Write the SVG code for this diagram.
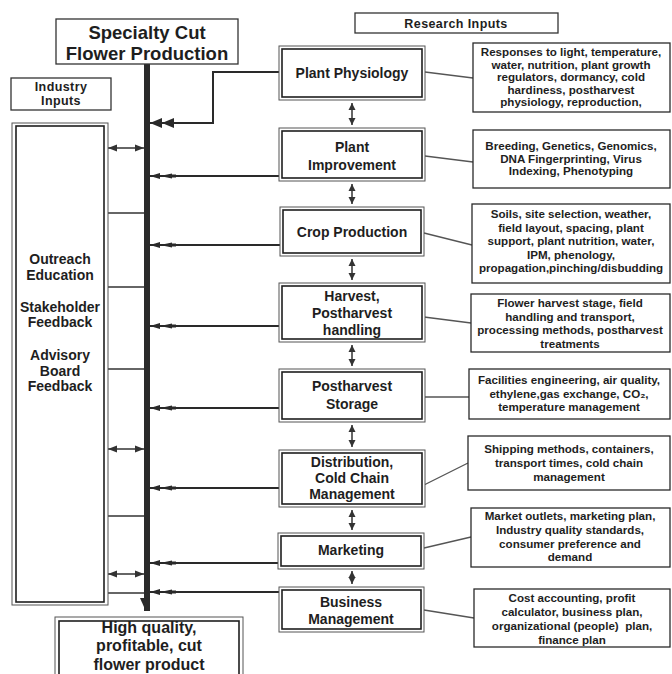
<svg xmlns="http://www.w3.org/2000/svg" width="672" height="674" viewBox="0 0 672 674">
<defs>
<style>
text{font-family:"Liberation Sans",Arial,sans-serif;font-weight:bold;fill:#1e1e1e;text-anchor:middle}
.t14{font-size:14px}
.t12{font-size:11.6px}
.t13{font-size:12.5px;letter-spacing:0.4px}
.big{font-size:18.5px}
.big2{font-size:16px}
.outer{fill:#fff;stroke:#555;stroke-width:1}
.inner{fill:none;stroke:#1e1e1e;stroke-width:1.6}
.desc{fill:#fff;stroke:#2a2a2a;stroke-width:1.3}
.conn{fill:none;stroke:#2a2a2a;stroke-width:2}
.thin{fill:none;stroke:#333;stroke-width:1.5}
.link{fill:none;stroke:#555;stroke-width:1.3}
.vert{fill:none;stroke:#333;stroke-width:1.5}
</style>
<marker id="dblBig" markerUnits="userSpaceOnUse" markerWidth="26" markerHeight="12" refX="24" refY="6" orient="auto">
<path d="M24,6 L12,1 L12,11 Z M12,6 L0,1 L0,11 Z" fill="#2a2a2a"/>
</marker>
<marker id="dbl" markerUnits="userSpaceOnUse" markerWidth="28" markerHeight="8" refX="26" refY="4" orient="auto">
<path d="M26,4 L16,1 L16,7 Z M16,4 L4,1.5 L4,6.5 Z M4,2.5 L0,2.5 L0,5.5 L4,5.5 Z" fill="#2a2a2a"/>
</marker>
<marker id="sm" markerUnits="userSpaceOnUse" markerWidth="10" markerHeight="8" refX="9" refY="4" orient="auto-start-reverse">
<path d="M9,4 L0,0.5 L0,7.5 Z" fill="#333"/>
</marker>
<marker id="vh" markerUnits="userSpaceOnUse" markerWidth="8" markerHeight="8" refX="7" refY="4" orient="auto-start-reverse">
<path d="M7,4 L0,0.5 L0,7.5 Z" fill="#333"/>
</marker>
</defs>
<rect width="672" height="674" fill="#fff"/>

<!-- connectors -->
<g id="connectors">
<rect x="144" y="64" width="6" height="547" fill="#2a2a2a"/>
<path d="M140,598 L147,598 L144,607 Z" fill="#2a2a2a"/>
<path class="conn" d="M279,72 H213 V123 H150" marker-end="url(#dblBig)"/>
<path class="conn" d="M279,176 H150" marker-end="url(#dbl)"/>
<path class="conn" d="M280,245 H150" marker-end="url(#dbl)"/>
<path class="conn" d="M279,326 H150" marker-end="url(#dbl)"/>
<path class="conn" d="M279,408 H150" marker-end="url(#dbl)"/>
<path class="conn" d="M279,488 H150" marker-end="url(#dbl)"/>
<path class="conn" d="M278,563 H150" marker-end="url(#dbl)"/>
<path class="conn" d="M279,592 H150" marker-end="url(#dbl)"/>
<path class="thin" d="M108,148 H144" marker-start="url(#sm)" marker-end="url(#sm)"/>
<path class="thin" d="M108,213 H144"/>
<path class="thin" d="M108,287 H144"/>
<path class="thin" d="M108,369 H144"/>
<path class="thin" d="M108,449 H144" marker-start="url(#sm)" marker-end="url(#sm)"/>
<path class="thin" d="M108,516 H144"/>
<path class="thin" d="M108,574 H144" marker-start="url(#sm)" marker-end="url(#sm)"/>
<path class="thin" d="M108,593 H144"/>
<path class="vert" d="M352,103 V125" marker-start="url(#vh)" marker-end="url(#vh)"/>
<path class="vert" d="M352,184 V204" marker-start="url(#vh)" marker-end="url(#vh)"/>
<path class="vert" d="M352,259 V280" marker-start="url(#vh)" marker-end="url(#vh)"/>
<path class="vert" d="M352,345 V366" marker-start="url(#vh)" marker-end="url(#vh)"/>
<path class="vert" d="M352,425 V447" marker-start="url(#vh)" marker-end="url(#vh)"/>
<path class="vert" d="M352,510 V530" marker-start="url(#vh)" marker-end="url(#vh)"/>
<path class="vert" d="M352,571 V584" marker-start="url(#vh)" marker-end="url(#vh)"/>
<path class="link" d="M425,72 L473,78"/>
<path class="link" d="M425,156 L473,162"/>
<path class="link" d="M424,233 L472,245"/>
<path class="link" d="M424,317 L471,323"/>
<path class="link" d="M424,397 L469,397"/>
<path class="link" d="M424,485 L468,463"/>
<path class="link" d="M424,548 L471,537"/>
<path class="link" d="M424,610 L474,618"/>
</g>

<g id="title">
<rect x="56" y="19" width="182" height="45" fill="#fff" stroke="#333" stroke-width="1.3"/>
<text class="big" x="147" y="39">Specialty Cut</text>
<text class="big" x="147" y="60">Flower Production</text>
</g>

<g id="research-inputs">
<rect x="355" y="13" width="203" height="20" fill="#fff" stroke="#333" stroke-width="1.3"/>
<text class="t13" x="456" y="28">Research Inputs</text>
</g>

<g id="industry-inputs">
<rect x="11" y="78" width="100" height="32" fill="#fff" stroke="#333" stroke-width="1.3"/>
<text class="t13" x="61" y="91">Industry</text>
<text class="t13" x="61" y="105">Inputs</text>
</g>

<g id="industry-box">
<rect class="outer" x="12" y="123" width="96" height="482"/>
<rect class="inner" x="16" y="126" width="88" height="476" stroke-width="1.2"/>
<text class="t14" x="60" y="264">Outreach</text>
<text class="t14" x="60" y="280">Education</text>
<text class="t14" x="60" y="312">Stakeholder</text>
<text class="t14" x="60" y="327">Feedback</text>
<text class="t14" x="60" y="360">Advisory</text>
<text class="t14" x="60" y="376">Board</text>
<text class="t14" x="60" y="391">Feedback</text>
</g>

<g id="plant-physiology">
<rect class="outer" x="279" y="46" width="146" height="54"/>
<rect class="inner" x="282" y="49" width="140" height="48"/>
<text class="t14" x="352" y="78">Plant Physiology</text>
</g>
<g id="plant-improvement">
<rect class="outer" x="279" y="128" width="146" height="53"/>
<rect class="inner" x="282" y="131" width="140" height="47"/>
<text class="t14" x="352" y="152">Plant</text>
<text class="t14" x="352" y="170">Improvement</text>
</g>
<g id="crop-production">
<rect class="outer" x="280" y="207" width="144" height="49"/>
<rect class="inner" x="283" y="210" width="138" height="43"/>
<text class="t14" x="352" y="237">Crop Production</text>
</g>
<g id="harvest">
<rect class="outer" x="279" y="283" width="146" height="59"/>
<rect class="inner" x="282" y="286" width="140" height="53"/>
<text class="t14" x="352" y="301">Harvest,</text>
<text class="t14" x="352" y="318">Postharvest</text>
<text class="t14" x="352" y="335">handling</text>
</g>
<g id="postharvest-storage">
<rect class="outer" x="279" y="369" width="146" height="53"/>
<rect class="inner" x="282" y="372" width="140" height="47"/>
<text class="t14" x="352" y="391">Postharvest</text>
<text class="t14" x="352" y="409">Storage</text>
</g>
<g id="distribution">
<rect class="outer" x="279" y="450" width="146" height="57"/>
<rect class="inner" x="282" y="453" width="140" height="51"/>
<text class="t14" x="352" y="467">Distribution,</text>
<text class="t14" x="352" y="483">Cold Chain</text>
<text class="t14" x="352" y="499">Management</text>
</g>
<g id="marketing">
<rect class="outer" x="278" y="533" width="146" height="36"/>
<rect class="inner" x="281" y="536" width="140" height="30"/>
<text class="t14" x="351" y="555">Marketing</text>
</g>
<g id="business-management">
<rect class="outer" x="279" y="587" width="145" height="45"/>
<rect class="inner" x="282" y="590" width="139" height="39"/>
<text class="t14" x="351" y="607">Business</text>
<text class="t14" x="351" y="624">Management</text>
</g>

<g id="detail-physiology">
<rect class="desc" x="473" y="43" width="197" height="69"/>
<text class="t12" x="571" y="56">Responses to light, temperature,</text>
<text class="t12" x="571" y="68.5">water, nutrition, plant growth</text>
<text class="t12" x="571" y="81">regulators, dormancy, cold</text>
<text class="t12" x="571" y="93.5">hardiness, postharvest</text>
<text class="t12" x="571" y="106">physiology, reproduction,</text>
</g>
<g id="detail-improvement">
<rect class="desc" x="473" y="130" width="197" height="58"/>
<text class="t12" x="571" y="150">Breeding, Genetics, Genomics,</text>
<text class="t12" x="571" y="162.5">DNA Fingerprinting, Virus</text>
<text class="t12" x="571" y="175">Indexing, Phenotyping</text>
</g>
<g id="detail-crop">
<rect class="desc" x="472" y="204" width="198" height="79"/>
<text class="t12" x="571" y="218">Soils, site selection, weather,</text>
<text class="t12" x="571" y="231.5">field layout, spacing, plant</text>
<text class="t12" x="571" y="245">support, plant nutrition, water,</text>
<text class="t12" x="571" y="258.5">IPM, phenology,</text>
<text class="t12" x="571" y="272">propagation,pinching/disbudding</text>
</g>
<g id="detail-harvest">
<rect class="desc" x="471" y="294" width="199" height="58"/>
<text class="t12" x="570" y="307">Flower harvest stage, field</text>
<text class="t12" x="570" y="320.5">handling and transport,</text>
<text class="t12" x="570" y="334">processing methods, postharvest</text>
<text class="t12" x="570" y="347.5">treatments</text>
</g>
<g id="detail-storage">
<rect class="desc" x="469" y="369" width="201" height="50"/>
<text class="t12" x="569" y="384">Facilities engineering, air quality,</text>
<text class="t12" x="569" y="397.5">ethylene,gas exchange, CO₂,</text>
<text class="t12" x="569" y="411">temperature management</text>
</g>
<g id="detail-distribution">
<rect class="desc" x="468" y="436" width="202" height="54"/>
<text class="t12" x="569" y="453">Shipping methods, containers,</text>
<text class="t12" x="569" y="467">transport times, cold chain</text>
<text class="t12" x="569" y="481">management</text>
</g>
<g id="detail-marketing">
<rect class="desc" x="471" y="508" width="199" height="59"/>
<text class="t12" x="570" y="520">Market outlets, marketing plan,</text>
<text class="t12" x="570" y="534">Industry quality standards,</text>
<text class="t12" x="570" y="548">consumer preference and</text>
<text class="t12" x="570" y="561">demand</text>
</g>
<g id="detail-business">
<rect class="desc" x="474" y="589" width="196" height="58"/>
<text class="t12" x="572" y="602">Cost accounting, profit</text>
<text class="t12" x="572" y="616">calculator, business plan,</text>
<text class="t12" x="572" y="630" xml:space="preserve">organizational (people)  plan,</text>
<text class="t12" x="572" y="644">finance plan</text>
</g>

<g id="outcome">
<rect class="outer" x="55" y="617" width="188" height="70"/>
<rect class="inner" x="59" y="621" width="180" height="62" stroke-width="1.2"/>
<text class="big2" x="149" y="632.5">High quality,</text>
<text class="big2" x="149" y="651">profitable, cut</text>
<text class="big2" x="149" y="669.5">flower product</text>
</g>
</svg>
